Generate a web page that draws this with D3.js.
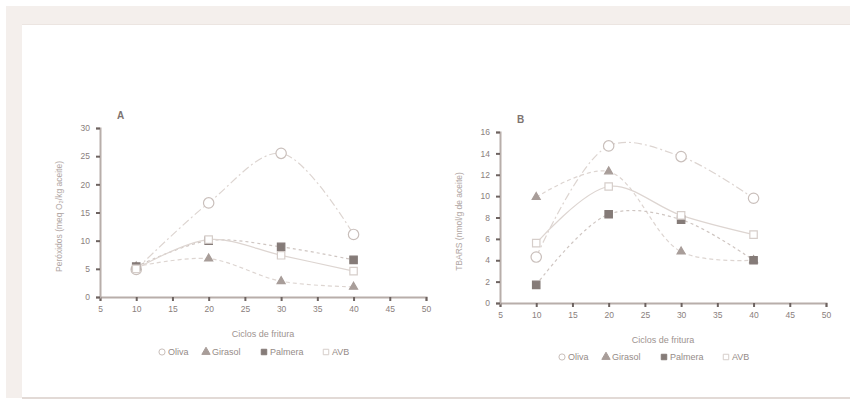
<!DOCTYPE html>
<html>
<head>
<meta charset="utf-8">
<script src="https://cdn.jsdelivr.net/npm/d3@7"></script>
<style>
  body { margin: 0; background: #fff; }
  svg text { font-family: "Liberation Sans", Arial, sans-serif; fill: #8f8582; }
</style>
</head>
<body>
<svg id="chart" width="850" height="401"></svg>
<script>
const ciclos = [10, 20, 30, 40];
const series = ['Oliva', 'Girasol', 'Palmera', 'AVB'];

// panel A: peroxidos
const perOliva = [4.9, 16.7, 25.5, 11.1];
const perGirasol = [5.4, 6.8, 2.8, 1.8];
const perPalmera = [5.4, 10.0, 8.9, 6.6];
const perAVB = [5.0, 10.2, 7.4, 4.6];

// panel B: TBARS
const tbOliva = [4.3, 14.7, 13.7, 9.8];
const tbGirasol = [9.9, 12.3, 4.8, 4.0];
const tbPalmera = [1.7, 8.3, 7.8, 4.0];
const tbAVB = [5.6, 10.9, 8.2, 6.4];

const xTicks = [5, 10, 15, 20, 25, 30, 35, 40, 45, 50];
const yTicksA = [0, 5, 10, 15, 20, 25, 30];
const yTicksB = [0, 2, 4, 6, 8, 10, 12, 14, 16];

const svg = d3.select('#chart');

// page frame
svg.append('rect').attr('x', 6).attr('y', 6).attr('width', 844).attr('height', 19).attr('fill', '#f4efec');
svg.append('rect').attr('x', 6).attr('y', 6).attr('width', 16).attr('height', 392).attr('fill', '#f4efec');
svg.append('line').attr('x1', 22).attr('x2', 850).attr('y1', 24.5).attr('y2', 24.5).attr('stroke', '#ece5e1');
svg.append('line').attr('x1', 22).attr('x2', 850).attr('y1', 398).attr('y2', 398).attr('stroke', '#e2dad6').attr('stroke-width', 2);

const style = {
  Oliva:   { dash: '8,3,2,3', marker: 'circle', fill: '#fff', stroke: '#c9bfbb' },
  Girasol: { dash: '4,3', marker: 'triangle', fill: '#a89d99', stroke: '#a89d99' },
  Palmera: { dash: '3,3', marker: 'square', fill: '#857b78', stroke: '#857b78' },
  AVB:     { dash: null, marker: 'square', fill: '#fff', stroke: '#d6ceca' }
};

function symOf(s) {
  const m = style[s].marker;
  return m === 'circle' ? d3.symbolCircle : m === 'triangle' ? d3.symbolTriangle : d3.symbolSquare;
}

function panel(cfg) {
  const g = svg.append('g');
  const x = d3.scaleLinear().domain([5, 50]).range([cfg.left, cfg.left + 326]);
  const y = d3.scaleLinear().domain([0, cfg.ymax]).range([cfg.bottom, cfg.top]);

  const xa = g.append('g').attr('transform', `translate(0,${cfg.bottom})`)
    .call(d3.axisBottom(x).tickValues(xTicks).tickSize(4).tickPadding(5));
  const ya = g.append('g').attr('transform', `translate(${cfg.left},0)`)
    .call(d3.axisLeft(y).tickValues(cfg.yTicks).tickSize(4).tickPadding(6));
  [xa, ya].forEach(a => {
    a.select('.domain').attr('stroke', '#b8aeaa').attr('stroke-width', 2);
    a.selectAll('.tick line').attr('stroke', '#6d6360').attr('stroke-width', 2);
    a.selectAll('.tick text').attr('font-size', 8.5).style('fill', '#8a807d');
  });

  g.append('text').attr('x', cfg.left + 17).attr('y', cfg.top - 9).attr('font-size', 10)
    .attr('font-weight', 'bold').style('fill', '#7d7370').text(cfg.label);

  g.append('text').attr('transform', `translate(${cfg.left - 38},${(cfg.top + cfg.bottom) / 2 + 4}) rotate(-90)`)
    .attr('text-anchor', 'middle').attr('font-size', 8.5).style('fill', '#b0a6a3').text(cfg.ytitle);

  g.append('text').attr('x', cfg.left + 163).attr('y', cfg.bottom + 40).attr('text-anchor', 'middle')
    .attr('font-size', 9).style('fill', '#9d9390').text('Ciclos de fritura');

  const line = d3.line().x((d, i) => x(ciclos[i])).y(d => y(d)).curve(d3.curveCatmullRom.alpha(0.5));

  series.forEach(s => {
    g.append('path').attr('d', line(cfg.data[s])).attr('fill', 'none')
      .attr('stroke', s === 'Palmera' ? '#cfc6c2' : '#ddd5d1').attr('stroke-width', 1.2)
      .attr('stroke-dasharray', style[s].dash);
  });
  series.forEach(s => {
    const st = style[s];
    const size = st.marker === 'circle' ? 85 : st.marker === 'triangle' ? 28 : 55;
    g.selectAll(null).data(cfg.data[s]).enter().append('path')
      .attr('d', d3.symbol().type(symOf(s)).size(size))
      .attr('transform', (d, i) => `translate(${x(ciclos[i])},${y(d)})`)
      .attr('fill', st.fill).attr('stroke', st.stroke).attr('stroke-width', 1.2);
  });

  // legend
  const lg = g.append('g').attr('transform', `translate(${cfg.left + 58},${cfg.legendY})`);
  const widths = { Oliva: 44, Girasol: 58, Palmera: 62, AVB: 40 };
  let off = 0;
  series.forEach(s => {
    const st = style[s];
    lg.append('path').attr('d', d3.symbol().type(symOf(s)).size(30))
      .attr('transform', `translate(${off + 4},0)`)
      .attr('fill', st.fill).attr('stroke', st.stroke);
    lg.append('text').attr('x', off + 10).attr('y', 3).attr('font-size', 9).style('fill', '#958b88').text(s);
    off += widths[s];
  });
}

panel({
  left: 100, top: 128, bottom: 297, ymax: 30, yTicks: yTicksA, label: 'A', legendY: 352,
  ytitle: 'Peróxidos (meq O\u2082/kg aceite)',
  data: { Oliva: perOliva, Girasol: perGirasol, Palmera: perPalmera, AVB: perAVB }
});
panel({
  left: 500, top: 132, bottom: 303, ymax: 16, yTicks: yTicksB, label: 'B', legendY: 357,
  ytitle: 'TBARS (nmol/g de aceite)',
  data: { Oliva: tbOliva, Girasol: tbGirasol, Palmera: tbPalmera, AVB: tbAVB }
});
</script>
</body>
</html>
